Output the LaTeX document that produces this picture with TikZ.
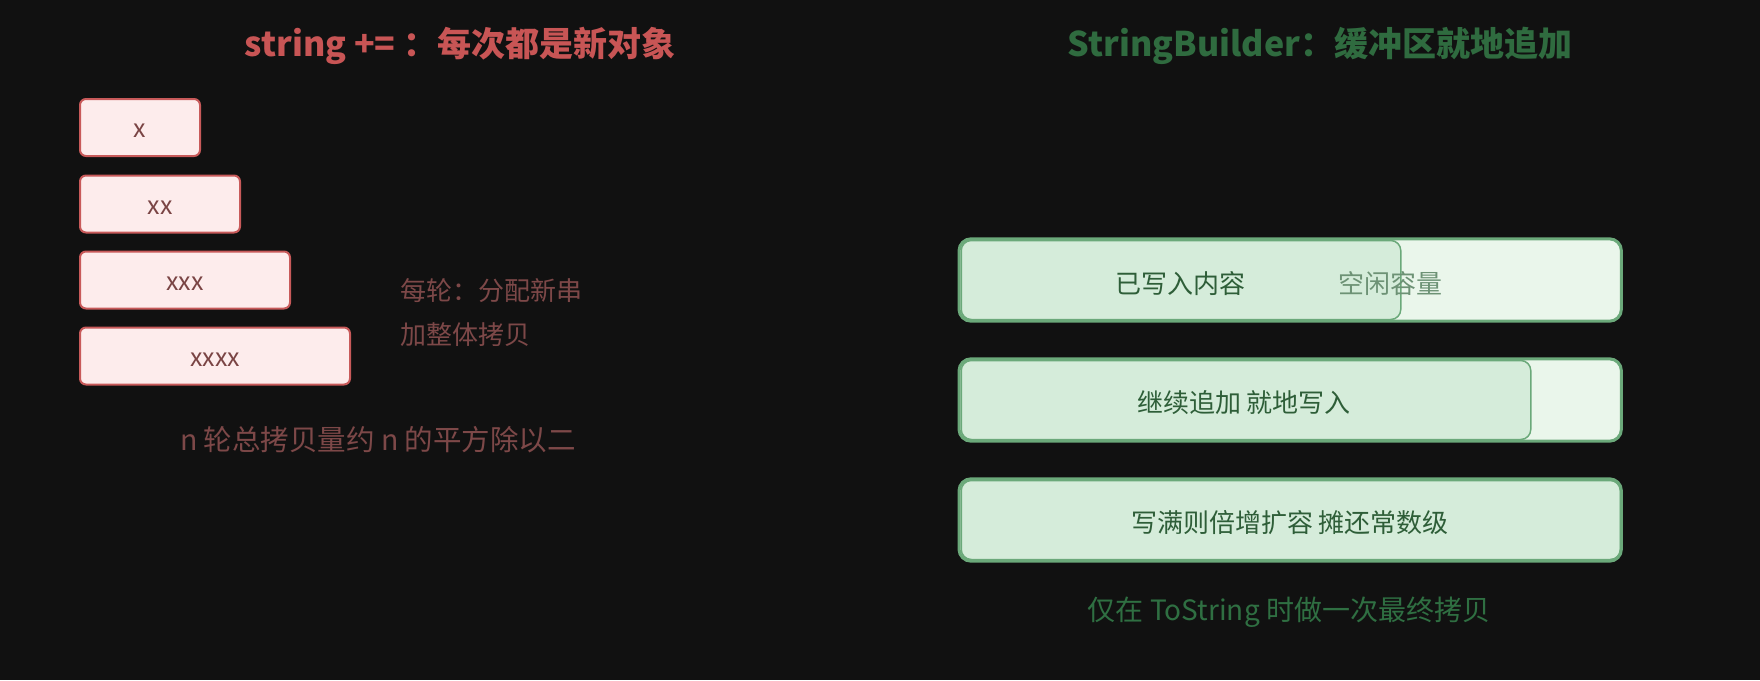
\documentclass[tikz,border=0pt]{standalone}
\usepackage{fontspec}
\setmainfont{Noto Sans CJK SC}
\definecolor{bg}{HTML}{111111}
\definecolor{redTitle}{HTML}{C85555}
\definecolor{redB}{HTML}{C85A5A}
\definecolor{redF}{HTML}{FDECEC}
\definecolor{redTxt}{HTML}{7A4444}
\definecolor{noteTxt}{HTML}{7D4848}
\definecolor{grnTitle}{HTML}{2F6B3F}
\definecolor{grnB}{HTML}{6BA97A}
\definecolor{grnL}{HTML}{EAF6EB}
\definecolor{grnF}{HTML}{D5ECDA}
\definecolor{grnTxt}{HTML}{2E5E38}
\definecolor{grnGray}{HTML}{6D9275}
\definecolor{grnBottom}{HTML}{2F6F42}
\begin{document}
\begin{tikzpicture}[x=1pt,y=-1pt,
  titletext/.style={font=\fontsize{34}{40}\selectfont\bfseries, inner sep=0pt},
  strbox/.style={draw=redB, fill=redF, line width=2pt, rounded corners=6pt,
    minimum height=57pt, inner sep=0pt, font=\fontsize{25}{30}\selectfont, text=redTxt,
    text height=20pt, text depth=0pt},
  notetext/.style={font=\fontsize{26}{30}\selectfont, text=noteTxt, inner sep=0pt, anchor=west},
  bufout/.style={fill=grnL, rounded corners=12pt, minimum height=82pt,
    minimum width=662pt, inner sep=0pt, anchor=west},
  bufin/.style={fill=grnF, draw=grnB, line width=1.5pt, rounded corners=10pt,
    minimum height=79pt, inner sep=0pt, anchor=west},
  bufedge/.style={draw=grnB, line width=3pt, rounded corners=12pt},
  buftext/.style={font=\fontsize{26}{30}\selectfont, text=grnTxt, inner sep=0pt},
  bottomtext/.style={font=\fontsize{28}{32}\selectfont, inner sep=0pt}
]
\fill[bg] (0,0) rectangle (1760,680);
\useasboundingbox (0,0) rectangle (1760,680);

% titles
\node[titletext, text=redTitle] (titleL) at (460,46) {string += ：每次都是新对象};
\node[titletext, text=grnTitle] (titleR) at (1320,46) {StringBuilder：缓冲区就地追加};

% left: string boxes
\node[strbox, minimum width=120pt] (s1) at (140,127.5) {x};
\node[strbox, minimum width=160pt] (s2) at (160,204) {xx};
\node[strbox, minimum width=210pt] (s3) at (185,280) {xxx};
\node[strbox, minimum width=270pt] (s4) at (215,356) {xxxx};

\node[notetext] (note1) at (400,291) {每轮：分配新串};
\node[notetext] (note2) at (400,335) {加整体拷贝};

\node[bottomtext, text=noteTxt, font=\fontsize{28.5}{32}\selectfont] (sumL) at (378,440) {n 轮总拷贝量约 n 的平方除以二};

% right: buffers
\node[bufout] (b1) at (959,280) {};
\node[bufin, minimum width=439.5pt] (b1in) at (960.5,280) {};
\draw[bufedge] (b1.north west) rectangle (b1.south east);
\node[buftext] (t1a) at (1180,284) {已写入内容};
\node[buftext, text=grnGray] (t1b) at (1390,284) {空闲容量};

\node[bufout] (b2) at (959,400) {};
\node[bufin, minimum width=569.5pt] (b2in) at (960.5,400) {};
\draw[bufedge] (b2.north west) rectangle (b2.south east);
\node[buftext] (t2) at (1244,403) {继续追加 就地写入};

\node[bufout] (b3) at (959,520) {};
\node[bufin, minimum width=659pt] (b3in) at (960.5,520) {};
\draw[bufedge] (b3.north west) rectangle (b3.south east);
\node[buftext] (t3) at (1290,523) {写满则倍增扩容 摊还常数级};

\node[bottomtext, text=grnBottom] (sumR) at (1289,612) {仅在 ToString 时做一次最终拷贝};
\end{tikzpicture}
\end{document}
